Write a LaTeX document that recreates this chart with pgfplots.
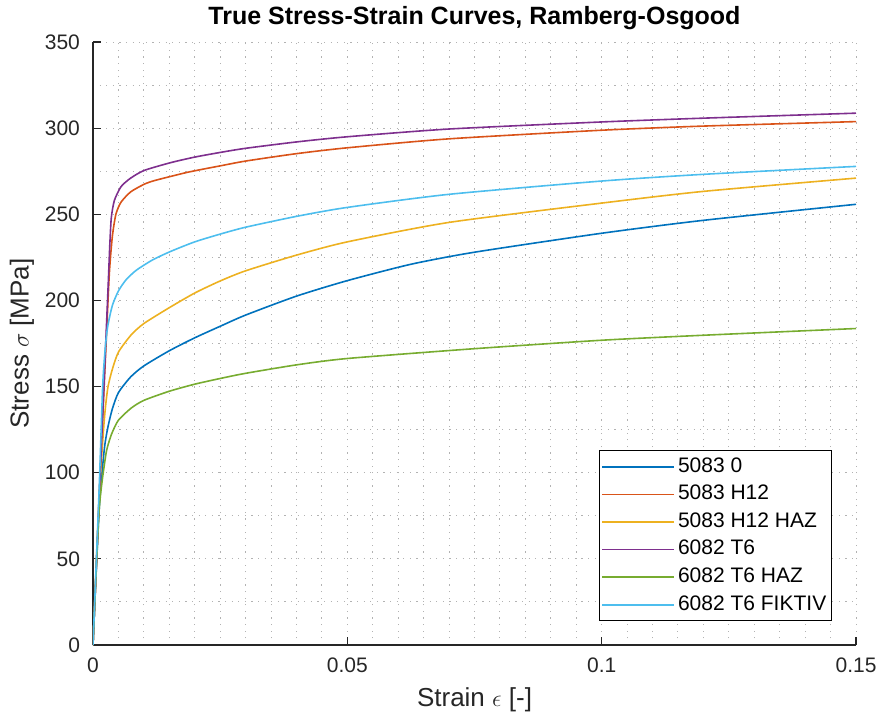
\documentclass[border=0pt]{standalone}
\usepackage{pgfplots}
\pgfplotsset{compat=1.18}
\usepackage{fontspec}
\setmainfont{Liberation Sans}
\definecolor{c1}{rgb}{0,0.447,0.741}
\definecolor{c2}{rgb}{0.850,0.325,0.098}
\definecolor{c3}{rgb}{0.929,0.694,0.125}
\definecolor{c4}{rgb}{0.494,0.184,0.556}
\definecolor{c5}{rgb}{0.466,0.674,0.188}
\definecolor{c6}{rgb}{0.301,0.745,0.933}
\definecolor{axc}{rgb}{0.15,0.15,0.15}
\begin{document}
\begin{tikzpicture}
\useasboundingbox (-46.5pt,-37.5pt) rectangle (394pt,322.5pt);
\begin{axis}[
  scale only axis, width=381.5pt, height=301.5pt,
  xmin=0, xmax=0.15, ymin=0, ymax=350,
  xtick={0,0.05,0.1,0.15}, xticklabels={0,0.05,0.1,0.15},
  ytick={0,50,100,150,200,250,300,350},
  scaled x ticks=false,
  minor x tick num=9, minor y tick num=1,
  grid=both,
  major grid style={draw=black!30, line width=0.5pt, dash pattern=on 0.6pt off 2.7pt},
  minor grid style={draw=black!30, line width=0.5pt, dash pattern=on 0.6pt off 2.7pt},
  axis x line*=bottom, axis y line*=left,
  axis line style={-, draw=axc, line width=0.6pt},
  tick align=inside, major tick length=3.8pt, minor tick length=0pt,
  tick style={draw=axc, line width=0.6pt},
  /pgf/number format/assume math mode=true,
  ticklabel style={font=\fontsize{10.5}{12}\selectfont, text=axc},
  yticklabel style={xshift=-3pt},
  xticklabel style={yshift=-3pt},
  xlabel={Strain $\epsilon$ [-]},
  ylabel={Stress $\sigma$ [MPa]},
  label style={font=\fontsize{13}{15}\selectfont, text=axc},
  xlabel style={at={(rel axis cs:0.5,0)}, anchor=center, yshift=-27.5pt},
  ylabel style={at={(rel axis cs:0,0.5)}, anchor=center, yshift=35.5pt},
  title={True Stress-Strain Curves, Ramberg-Osgood},
  every axis title shift=0pt,
  title style={font=\fontsize{12.5}{14}\selectfont\bfseries, at={(rel axis cs:0.5,1)}, anchor=center, yshift=12pt},
  legend cell align=left,
  legend style={at={(rel axis cs:0.9685,0.0398)}, anchor=south east, draw=black, line width=0.5pt,
    fill=white, font=\fontsize{10.5}{12}\selectfont, inner sep=1pt, row sep=0pt,
    nodes={text height=8pt, text depth=2.6pt, inner sep=1.6pt}},
  legend image code/.code={\draw[#1] (0pt,0pt) -- (36pt,0pt);},
  every axis plot/.append style={line width=0.8pt, smooth, tension=0.4},
]
\addplot[c1] coordinates {(0,0) (0.0012,78) (0.0022,113) (0.0029,126) (0.0038,137) (0.005,146.5) (0.0074,155.6) (0.01,162) (0.015,170.8) (0.02,178.3) (0.025,185) (0.03,191.5) (0.04,202.5) (0.05,211.5) (0.0625,221) (0.075,228) (0.1,239) (0.12,246.5) (0.15,255.8)};
\addlegendentry{5083 0}
\addplot[c2] coordinates {(0,0) (0.0015,105) (0.0025,170) (0.0032,215) (0.0038,237) (0.0045,250) (0.0055,257) (0.0074,263) (0.0101,267.5) (0.012,269.5) (0.0153,272) (0.0186,274.4) (0.0225,276.7) (0.025,278.1) (0.03,280.9) (0.04,285.2) (0.05,288.6) (0.07,293.8) (0.1,298.8) (0.12,301.2) (0.15,303.8)};
\addlegendentry{5083 H12}
\addplot[c3] coordinates {(0,0) (0.0012,85) (0.0022,130) (0.0029,149) (0.0038,160) (0.005,170) (0.0075,180) (0.01,186.6) (0.015,195.8) (0.02,204.3) (0.025,211.3) (0.03,217.2) (0.04,226.3) (0.05,234) (0.07,245.3) (0.1,256.5) (0.12,263.3) (0.15,271)};
\addlegendentry{5083 H12 HAZ}
\addplot[c4] coordinates {(0,0) (0.0015,105) (0.0025,175) (0.003,210) (0.0033,232) (0.0036,248) (0.0042,258) (0.0055,266) (0.0074,271) (0.0101,275.5) (0.0153,280) (0.02,283.2) (0.025,285.9) (0.03,288.3) (0.04,292) (0.05,295) (0.07,299.5) (0.1,303.6) (0.12,305.8) (0.15,308.7)};
\addlegendentry{6082 T6}
\addplot[c5] coordinates {(0,0) (0.0012,78) (0.0025,110) (0.0032,118.5) (0.0038,123.5) (0.005,130.5) (0.0075,137.5) (0.01,142) (0.015,147.3) (0.02,151.4) (0.025,154.7) (0.03,157.7) (0.04,162.6) (0.05,166.3) (0.075,172) (0.1,176.9) (0.12,179.8) (0.15,183.7)};
\addlegendentry{6082 T6 HAZ}
\addplot[c6] coordinates {(0,0) (0.0012,90) (0.0019,150) (0.0024,172) (0.0029,185) (0.0038,197) (0.005,205.5) (0.0065,212) (0.0085,217.5) (0.0117,223.5) (0.0153,228.5) (0.02,234) (0.025,238.5) (0.03,242.5) (0.04,248.8) (0.05,254) (0.07,261.6) (0.1,269.3) (0.12,273.2) (0.15,277.8)};
\addlegendentry{6082 T6 FIKTIV}
\end{axis}
\end{tikzpicture}
\end{document}
